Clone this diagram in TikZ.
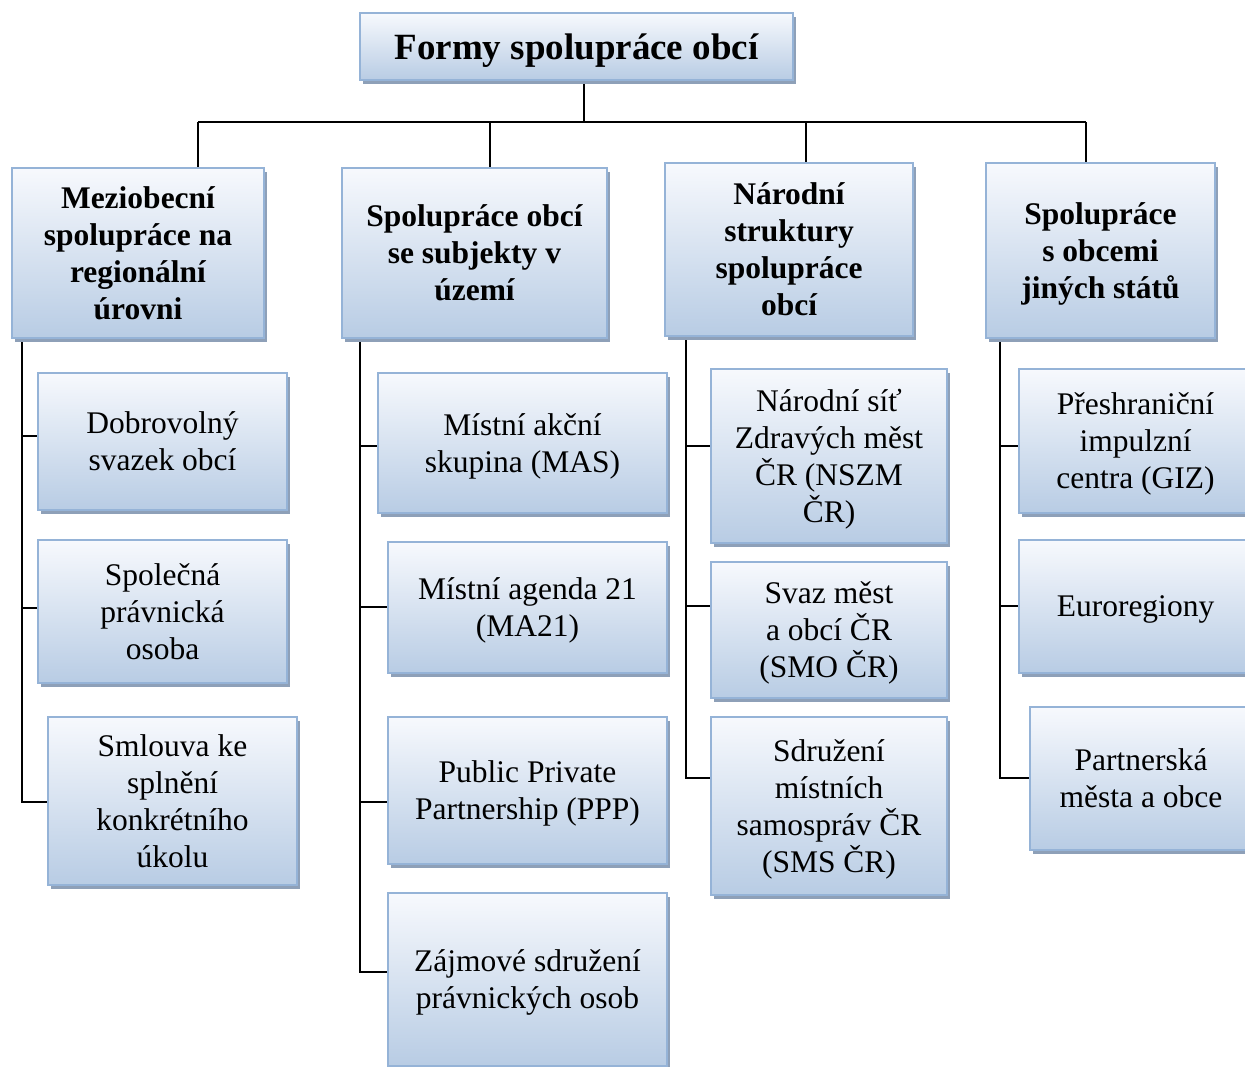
\documentclass[tikz,border=0pt]{standalone}
\usepackage{fontspec}
\setmainfont{Liberation Serif}
\usetikzlibrary{shadows,backgrounds}
\definecolor{bord}{HTML}{95B3D7}
\definecolor{topc}{HTML}{F7F9FD}
\definecolor{botc}{HTML}{B8CCE4}
\definecolor{shad}{HTML}{8EA0B8}
\begin{document}
\begin{tikzpicture}[x=1pt,y=-1pt,
  box/.style={draw=bord, line width=1.8pt, top color=topc, bottom color=botc,
    drop shadow={shadow xshift=3pt,shadow yshift=-4pt,fill=shad,opacity=1},
    align=center, inner sep=0pt, text depth=0pt, font=\fontsize{31.5}{37}\selectfont},
  hbox/.style={box, font=\fontsize{31.5}{37}\selectfont\bfseries},
  tbox/.style={box, font=\fontsize{37}{44}\selectfont\bfseries},
  ln/.style={line width=2pt, black}]
\clip (0,0) rectangle (1245,1066);

\node[tbox, minimum width=433pt, minimum height=67pt] (title) at (576.5,46.5) {Formy spolupráce obcí};

\node[hbox, minimum width=252pt, minimum height=170pt] (h1) at (138,253) {Meziobecní\\spolupráce na\\regionální\\úrovni};
\node[hbox, minimum width=265pt, minimum height=170pt] (h2) at (474.5,253) {Spolupráce obcí\\se subjekty v\\území};
\node[hbox, minimum width=248pt, minimum height=173pt] (h3) at (789,249.5) {Národní\\struktury\\spolupráce\\obcí};
\node[hbox, minimum width=229pt, minimum height=175pt] (h4) at (1100.5,250.5) {Spolupráce\\s obcemi\\jiných států};

\node[box, minimum width=249pt, minimum height=137pt] (c11) at (162.5,441.5) {Dobrovolný\\svazek obcí};
\node[box, minimum width=249pt, minimum height=143pt] (c12) at (162.5,611.5) {Společná\\právnická\\osoba};
\node[box, minimum width=249pt, minimum height=168pt] (c13) at (172.5,801) {Smlouva ke\\splnění\\konkrétního\\úkolu};

\node[box, minimum width=289pt, minimum height=140pt] (c21) at (522.5,443) {Místní akční\\skupina (MAS)};
\node[box, minimum width=279pt, minimum height=131pt] (c22) at (527.5,607.5) {Místní agenda 21\\(MA21)};
\node[box, minimum width=279pt, minimum height=147pt] (c23) at (527.5,790.5) {Public Private\\Partnership (PPP)};
\node[box, minimum width=279pt, minimum height=173pt] (c24) at (527.5,979.5) {Zájmové sdružení\\právnických osob};

\node[box, minimum width=236pt, minimum height=174pt] (c31) at (829,456) {Národní síť\\Zdravých měst\\ČR (NSZM\\ČR)};
\node[box, minimum width=236pt, minimum height=136pt] (c32) at (829,630) {Svaz měst\\a obcí ČR\\(SMO ČR)};
\node[box, minimum width=236pt, minimum height=178pt] (c33) at (829,806) {Sdružení\\místních\\samospráv ČR\\(SMS ČR)};

\node[box, minimum width=233pt, minimum height=144pt] (c41) at (1135.5,441) {Přeshraniční\\impulzní\\centra (GIZ)};
\node[box, minimum width=233pt, minimum height=133pt] (c42) at (1135.5,606.5) {Euroregiony};
\node[box, minimum width=222pt, minimum height=143pt] (c43) at (1141,778.5) {Partnerská\\města a obce};

\begin{scope}[on background layer]
\fill[white] (0,0) rectangle (1245,1066);
\coordinate (busL) at (198,122);
\coordinate (bus2) at (490,122);
\coordinate (busM) at (584,122);
\coordinate (bus3) at (806,122);
\coordinate (busR) at (1086,122);
\draw[ln] (busM |- title.south) -- (busM);
\draw[ln] (busL) -- (busR);
\draw[ln] (busL) -- (busL |- h1.north);
\draw[ln] (bus2) -- (bus2 |- h2.north);
\draw[ln] (bus3) -- (bus3 |- h3.north);
\draw[ln] (busR) -- (busR |- h4.north);

% column 1
\coordinate (k11) at (22,436);
\coordinate (k12) at (22,608);
\coordinate (k13) at (22,802);
\draw[ln] (k11 |- h1.south) -- (k13) -- (k13 -| c13.west);
\draw[ln] (k11) -- (k11 -| c11.west);
\draw[ln] (k12) -- (k12 -| c12.west);

% column 2
\coordinate (k21) at (360,446);
\coordinate (k22) at (360,607);
\coordinate (k23) at (360,802);
\coordinate (k24) at (360,972);
\draw[ln] (k21 |- h2.south) -- (k24) -- (k24 -| c24.west);
\draw[ln] (k21) -- (k21 -| c21.west);
\draw[ln] (k22) -- (k22 -| c22.west);
\draw[ln] (k23) -- (k23 -| c23.west);

% column 3
\coordinate (k31) at (686,446);
\coordinate (k32) at (686,606);
\coordinate (k33) at (686,778);
\draw[ln] (k31 |- h3.south) -- (k33) -- (k33 -| c33.west);
\draw[ln] (k31) -- (k31 -| c31.west);
\draw[ln] (k32) -- (k32 -| c32.west);

% column 4
\coordinate (k41) at (1000,446);
\coordinate (k42) at (1000,606);
\coordinate (k43) at (1000,778);
\draw[ln] (k41 |- h4.south) -- (k43) -- (k43 -| c43.west);
\draw[ln] (k41) -- (k41 -| c41.west);
\draw[ln] (k42) -- (k42 -| c42.west);
\end{scope}
\end{tikzpicture}
\end{document}
